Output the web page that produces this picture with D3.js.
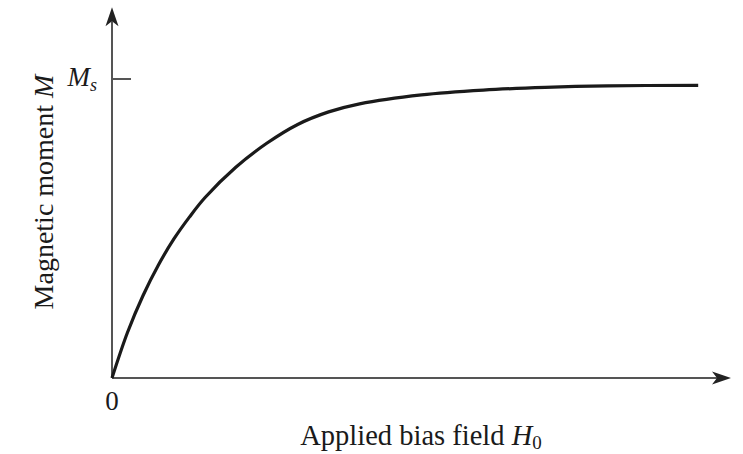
<!DOCTYPE html>
<html>
<head>
<meta charset="utf-8">
<script src="https://cdn.jsdelivr.net/npm/d3@7"></script>
<style>
  html, body { margin: 0; padding: 0; background: #fff; }
  svg { display: block; }
  text { font-family: "Liberation Serif", "DejaVu Serif", serif; fill: #1a1a1a; }
</style>
</head>
<body>
<svg id="chart" width="743" height="454"></svg>
<script>
// Data (H in arbitrary units, M normalised to Ms = 1)
const fieldH = [0, 0.25, 0.5, 0.75, 1.0, 1.25, 1.5, 2.0, 2.5, 3.0, 3.5, 4.0, 5.0, 6.0, 7.0, 8.0, 9.47];
const momentM = [0, 0.152, 0.275, 0.378, 0.465, 0.538, 0.603, 0.705, 0.785, 0.848, 0.890, 0.917, 0.947, 0.963, 0.972, 0.977, 0.979];
const yTickValues = [1];
const yTickLabels = ["M_s"];
const xTickLabels = ["0"];

const svg = d3.select("#chart");
const x = d3.scaleLinear().domain([0, 10]).range([112, 731]);
const y = d3.scaleLinear().domain([0, 1]).range([378, 79]);
const xMax = 10, yMax = 1.24;

const axisColor = "#555";

// Axes lines
svg.append("line")
  .attr("x1", x(0)).attr("y1", y(0)).attr("x2", x(xMax) - 14).attr("y2", y(0))
  .attr("stroke", axisColor).attr("stroke-width", 2);
svg.append("line")
  .attr("x1", x(0)).attr("y1", y(0)).attr("x2", x(0)).attr("y2", y(yMax) + 14)
  .attr("stroke", axisColor).attr("stroke-width", 2);

// Arrowheads
function arrow(tx, ty, dir) {
  const L = 19, W = 6.5, N = 14;
  let pts;
  if (dir === "right") {
    pts = [[tx, ty], [tx - L, ty - W], [tx - N, ty], [tx - L, ty + W]];
  } else {
    pts = [[tx, ty], [tx - W, ty + L], [tx, ty + N], [tx + W, ty + L]];
  }
  svg.append("path")
    .attr("d", "M" + pts.map(p => p.join(",")).join("L") + "Z")
    .attr("fill", "#222");
}
arrow(x(xMax), y(0), "right");
arrow(x(0), y(yMax), "up");

// Ms tick
svg.selectAll(".ytick").data(yTickValues).enter().append("line")
  .attr("x1", x(0)).attr("x2", x(0) + 19)
  .attr("y1", d => y(d)).attr("y2", d => y(d))
  .attr("stroke", axisColor).attr("stroke-width", 2);

// Ms label
yTickValues.forEach((v, i) => {
  const parts = yTickLabels[i].split("_");
  const t = svg.append("text")
    .attr("x", 97).attr("y", y(v) + 7)
    .attr("text-anchor", "end")
    .attr("font-size", 27).attr("font-style", "italic");
  t.append("tspan").text(parts[0]);
  t.append("tspan").attr("font-size", 18).attr("dy", 5).text(parts[1]);
});

// Origin label
svg.append("text")
  .attr("x", x(0)).attr("y", 410)
  .attr("text-anchor", "middle")
  .attr("font-size", 27)
  .text(xTickLabels[0]);

// Curve
const line = d3.line()
  .x((d, i) => x(fieldH[i]))
  .y((d, i) => y(momentM[i]))
  .curve(d3.curveCatmullRom.alpha(0.5));
svg.append("path")
  .datum(fieldH)
  .attr("d", line)
  .attr("fill", "none")
  .attr("stroke", "#1a1a1a")
  .attr("stroke-width", 3.2)
  .attr("stroke-linecap", "butt");

// X axis title
const xt = svg.append("text")
  .attr("x", 421).attr("y", 445)
  .attr("text-anchor", "middle")
  .attr("font-size", 28.5);
xt.append("tspan").text("Applied bias field ");
xt.append("tspan").attr("font-style", "italic").text("H");
xt.append("tspan").attr("font-size", 19).attr("dy", 4).text("0");

// Y axis title
const yt = svg.append("text")
  .attr("transform", "translate(53,192) rotate(-90)")
  .attr("text-anchor", "middle")
  .attr("font-size", 28);
yt.append("tspan").text("Magnetic moment ");
yt.append("tspan").attr("font-style", "italic").text("M");
</script>
</body>
</html>
